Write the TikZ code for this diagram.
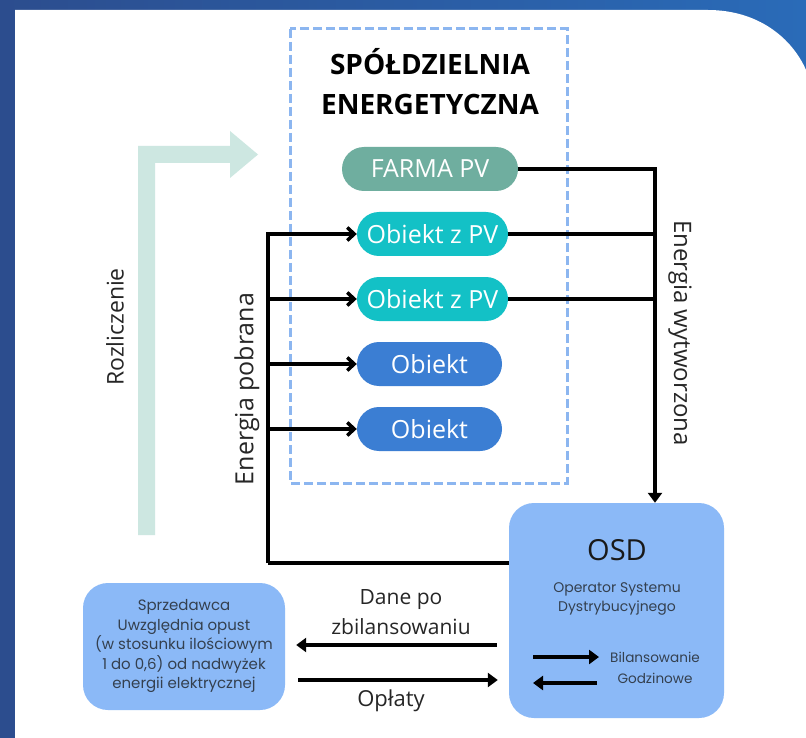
\documentclass[tikz,border=0pt]{standalone}
\usepackage{fontspec}
\setmainfont{Open Sans}
\newfontfamily\popp{Poppins}
\usetikzlibrary{arrows.meta}
\definecolor{bgL}{HTML}{2C4D8E}
\definecolor{bgR}{HTML}{2A6BB8}
\definecolor{farm}{HTML}{6FAE9F}
\definecolor{pvc}{HTML}{13C1C6}
\definecolor{objc}{HTML}{3B7ED3}
\definecolor{boxc}{HTML}{8BB9F7}
\definecolor{dashc}{HTML}{8CB6F0}
\definecolor{rozc}{HTML}{CDE7E1}
\definecolor{subt}{HTML}{34404F}
\tikzset{
  pill/.style={rounded corners=22pt, minimum height=44pt, inner sep=0pt, text=white,
               font=\fontsize{25}{28}\selectfont},
  bluebox/.style={fill=boxc, rounded corners=25pt, inner sep=0pt},
  ln/.style={line width=3.5pt, draw=black},
  barb/.style={-{Straight Barb[length=7pt,width=13pt]}},
  tri/.style={-{Triangle[length=10pt,width=14pt]}},
  lbl/.style={font=\fontsize{24}{28}\selectfont, text=black!85},
  small/.style={font=\popp\fontsize{14}{19.5}\selectfont, text=subt},
}
\begin{document}
\begin{tikzpicture}[x=1pt,y=-1pt]
\useasboundingbox (0,0) rectangle (806,738);
% background
\shade[left color=bgL, right color=bgR] (0,0) rectangle (806,738);
\fill[white] (15,738) -- (15,10) -- (708,10) .. controls (758,10) and (792,38) .. (806,70) -- (806,738) -- cycle;

% Rozliczenie arrow
\fill[rozc] (138,535) -- (138,146) -- (230,146) -- (230,131) -- (258,154.5) -- (230,178) -- (230,163) -- (155,163) -- (155,535) -- cycle;
\node[lbl, rotate=90, font=\fontsize{23}{28}\selectfont] (roz) at (115,327) {Rozliczenie};

% dashed cooperative box
\draw[dashc, line width=3pt, dash pattern=on 9pt off 4pt] (290,29) rectangle (567,483);
\node[font=\bfseries\fontsize{28}{40}\selectfont, align=center] (title) at (430,82) {SPÓŁDZIELNIA\\ENERGETYCZNA};

% pills
\node[pill, fill=farm, minimum width=176pt] (farm) at (430,169) {FARMA PV};
\node[pill, fill=pvc, minimum width=151pt] (pv1) at (432.5,234) {Obiekt z PV};
\node[pill, fill=pvc, minimum width=151pt] (pv2) at (432.5,299) {Obiekt z PV};
\node[pill, fill=objc, minimum width=145pt] (o1) at (429.5,364) {Obiekt};
\node[pill, fill=objc, minimum width=145pt] (o2) at (429.5,429) {Obiekt};

% OSD box
\node[bluebox, minimum width=215pt, minimum height=215pt] (osd) at (616.5,610.5) {};
\node[font=\fontsize{29}{32}\selectfont, text=black!90] (osdt) at (617,550) {OSD};
\node[small, align=center] (osds) at (617,599) {Operator Systemu\\Dystrybucyjnego};
\node[small, align=center, font=\popp\fontsize{13.6}{21}\selectfont] (bil) at (655,668) {Bilansowanie\\Godzinowe};
\coordinate (ba1) at (533,657);
\coordinate (ba2) at (599,657);
\coordinate (bb1) at (597,683);
\coordinate (bb2) at (533,683);
\draw[ln, tri] (ba1) -- (ba2);
\draw[ln, tri] (bb1) -- (bb2);

% Sprzedawca box
\node[bluebox, minimum width=202pt, minimum height=127pt] (spr) at (184,646.5) {};
\node[small, align=center, font=\popp\fontsize{15}{19.5}\selectfont] (sprt) at (184,646) {Sprzedawca\\Uwzględnia opust\\(w stosunku ilościowym\\1 do 0,6) od nadwyżek\\energii elektrycznej};

% left bus (Energia pobrana)
\coordinate (bt) at (268,234);
\coordinate (bb) at (268,563);
\draw[ln, barb] (bb) -- (bt) -- (pv1.west);
\draw[ln] (bb) -- (osd.west |- bb);
\draw[ln, barb] (pv2.west -| bt) -- (pv2.west);
\draw[ln, barb] (o1.west -| bt) -- (o1.west);
\draw[ln, barb] (o2.west -| bt) -- (o2.west);
\node[lbl, rotate=90, font=\fontsize{25}{28}\selectfont] (ep) at (247,389) {Energia pobrana};

% right bus (Energia wytworzona)
\coordinate (rt) at (655,169);
\draw[ln, tri] (farm.east) -- (rt) -- (rt |- osd.north);
\draw[ln] (pv1.east) -- (pv1.east -| rt);
\draw[ln] (pv2.east) -- (pv2.east -| rt);
\node[lbl, rotate=-90] (ew) at (680,333) {Energia wytworzona};

% bottom arrows
\coordinate (dy) at (0,645);
\coordinate (oy) at (0,680);
\draw[ln, tri, shorten <=12pt, shorten >=11pt] (osd.west |- dy) -- (spr.east |- dy);
\draw[ln, tri, shorten <=13pt, shorten >=11pt] (spr.east |- oy) -- (osd.west |- oy);
\node[lbl, align=center, font=\fontsize{21}{30}\selectfont] (dane) at (401,612) {Dane po\\zbilansowaniu};
\node[lbl, font=\fontsize{22}{26}\selectfont] (opl) at (391,701) {Opłaty};
\end{tikzpicture}
\end{document}
